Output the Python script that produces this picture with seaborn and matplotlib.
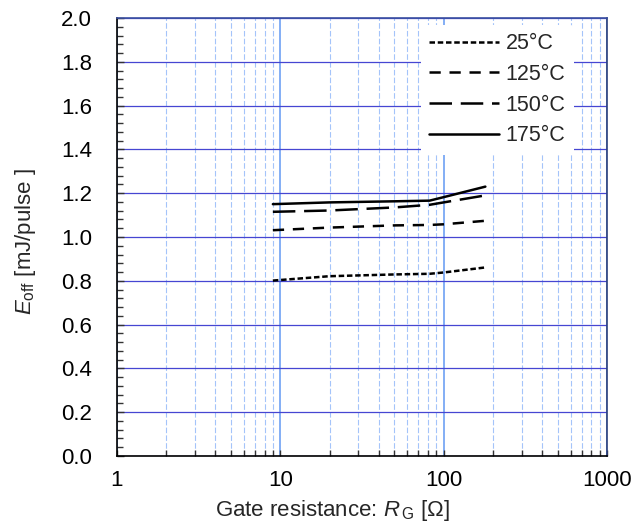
import matplotlib
matplotlib.use("Agg")
import matplotlib.pyplot as plt
import matplotlib.ticker as mticker
import numpy as np
import pandas as pd
import seaborn as sns

# Gate resistance sweep [ohm] and turn-off energy [mJ/pulse] per junction temperature
rg_values = [9, 20, 50, 82, 100, 180]
temperatures = ["25°C", "125°C", "150°C", "175°C"]
eoff_25 = [0.801, 0.821, 0.829, 0.832, 0.838, 0.861]
eoff_125 = [1.031, 1.043, 1.053, 1.055, 1.058, 1.074]
eoff_150 = [1.115, 1.121, 1.135, 1.147, 1.158, 1.190]
eoff_175 = [1.150, 1.158, 1.163, 1.166, 1.182, 1.230]

y_ticks = [0.0, 0.2, 0.4, 0.6, 0.8, 1.0, 1.2, 1.4, 1.6, 1.8, 2.0]
x_ticks = [1, 10, 100, 1000]
x_tick_labels = ["1", "10", "100", "1000"]

sns.set_theme(style="white")
plt.rcParams["font.family"] = ["Liberation Sans", "DejaVu Sans"]
plt.rcParams["mathtext.fontset"] = "custom"
plt.rcParams["mathtext.rm"] = "Liberation Sans"
plt.rcParams["mathtext.it"] = "Liberation Sans:italic"

series = [eoff_25, eoff_125, eoff_150, eoff_175]
df = pd.DataFrame({
    "RG": np.tile(rg_values, len(temperatures)),
    "Eoff": np.concatenate(series),
    "Temp": np.repeat(temperatures, len(rg_values)),
})

fig = plt.figure(figsize=(6.4, 5.26), dpi=100)
ax = fig.add_axes([117 / 640, 1 - 456 / 526, 490 / 640, 438 / 526])

dash_styles = {
    "25°C": (2.2, 1.1),
    "125°C": (4.5, 3.5),
    "150°C": (9, 3.5),
    "175°C": "",
}
sns.lineplot(data=df, x="RG", y="Eoff", hue="Temp", style="Temp",
             palette=["black"] * 4, dashes=dash_styles, linewidth=1.8,
             ax=ax, zorder=5)

ax.set_xscale("log")
ax.set_xlim(1, 1000)
ax.set_ylim(0, 2.0)
ax.set_xticks(x_ticks)
ax.set_xticklabels(x_tick_labels)
ax.xaxis.set_minor_locator(mticker.LogLocator(base=10, subs=np.arange(2, 10)))
ax.xaxis.set_minor_formatter(mticker.NullFormatter())
ax.set_yticks(y_ticks)
ax.yaxis.set_major_formatter(mticker.FormatStrFormatter("%.1f"))
ax.yaxis.set_minor_locator(mticker.MultipleLocator(0.04))

# grid lines
ax.xaxis.grid(True, which="major", color="#7aa8f5", linewidth=1.3, linestyle="-")
ax.xaxis.grid(True, which="minor", color="#a4c4fa", linewidth=0.8, linestyle=(0, (5, 2)))
ax.yaxis.grid(True, which="major", color="#4646d2", linewidth=0.9)
ax.set_axisbelow(True)

fs = 16
ax.tick_params(axis="both", which="both", direction="in", colors="#333333",
               labelcolor="black", labelsize=fs)
ax.tick_params(axis="y", which="major", length=5, width=1, pad=18, left=True)
ax.tick_params(axis="y", which="minor", length=4, width=1, left=True)
ax.tick_params(axis="x", which="major", length=4, width=1, pad=10, bottom=True)
ax.tick_params(axis="x", which="minor", length=4, width=1, bottom=True)

for side, col in [("left", "black"), ("bottom", "black"), ("right", "#2b3f7a"), ("top", "#3a4fa0")]:
    ax.spines[side].set_visible(True)
    ax.spines[side].set_color(col)
    ax.spines[side].set_linewidth(1.2)

ax.set_xlabel(r"Gate resistance: $R_{\,\mathrm{G}}$ [Ω]", fontsize=fs)
ax.set_ylabel(r"$E_{\mathrm{off}}$ [mJ/pulse ]", fontsize=fs)
ax.xaxis.set_label_coords(0.44, -0.096)
ax.yaxis.set_label_coords(-0.161, 0.49)

leg = ax.legend(loc="upper left", bbox_to_anchor=(0.62, 0.985), borderaxespad=0,
                frameon=True, facecolor="white", edgecolor="none", framealpha=1,
                fontsize=15.5, handlelength=3.25, labelspacing=0.45,
                handletextpad=0.3, title=None)
leg.set_zorder(10)

fig.savefig("out.png", dpi=100)
